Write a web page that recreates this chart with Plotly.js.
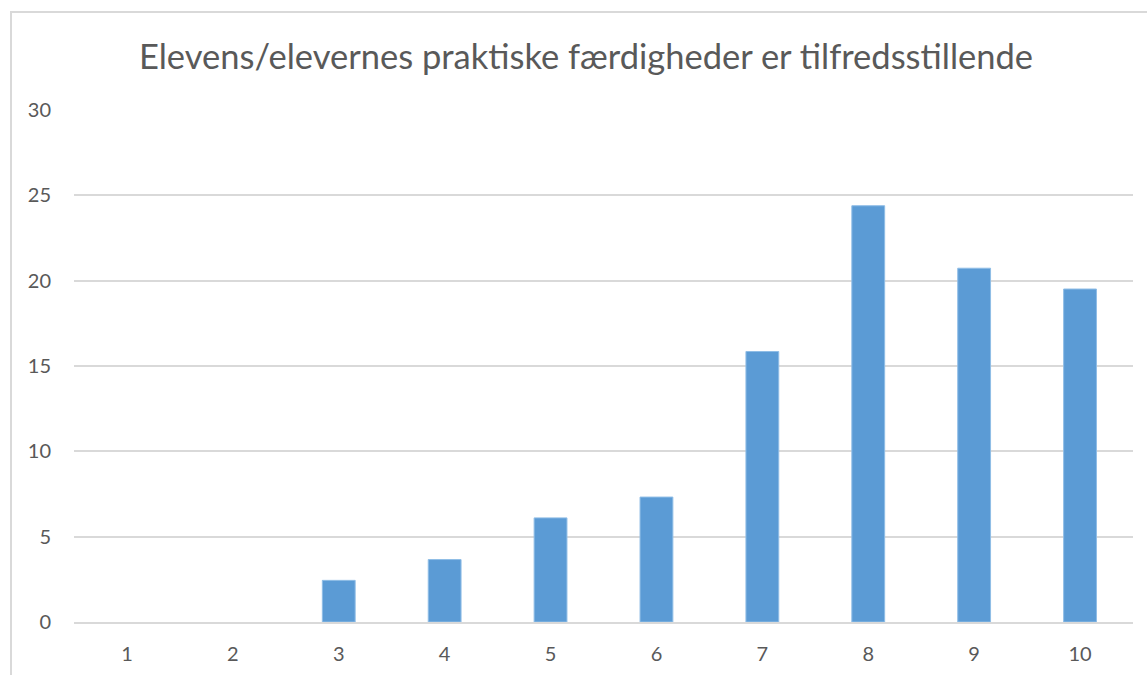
<!DOCTYPE html>
<html>
<head>
<meta charset="utf-8">
<script src="https://cdn.plot.ly/plotly-3.0.1.min.js"></script>
<style>
  html, body { margin: 0; padding: 0; background: #ffffff; }
  #frame { position: absolute; left: 10px; top: 11px; width: 1200px; height: 700px;
           border-left: 2px solid #d9d9d9; border-top: 2px solid #d9d9d9; box-sizing: border-box; }
  #chart { position: absolute; left: 0; top: 0; width: 1147px; height: 675px; }
</style>
</head>
<body>
<div id="frame"></div>
<div id="chart"></div>
<script>
const categories = ["1", "2", "3", "4", "5", "6", "7", "8", "9", "10"];
const values = [0, 0, 2.44, 3.66, 6.10, 7.32, 15.85, 24.39, 20.73, 19.51];
const yTickValues = [0, 5, 10, 15, 20, 25, 30];
const chartTitle = "Elevens/elevernes praktiske færdigheder er tilfredsstillende";

const trace = {
  type: "bar",
  x: categories,
  y: values,
  marker: {
    color: "#5b9bd5",
    line: { color: "#8fbde6", width: values.map(v => (v > 0 ? 1 : 0)) }
  },
  hoverinfo: "x+y"
};

const layout = {
  width: 1147,
  height: 675,
  paper_bgcolor: "rgba(0,0,0,0)",
  plot_bgcolor: "rgba(0,0,0,0)",
  margin: { l: 74, r: 14, t: 110, b: 53 },
  bargap: 0.69,
  showlegend: false,
  font: { family: "Lato, 'Open Sans', sans-serif", color: "#595959" },
  title: {
    text: chartTitle,
    font: { family: "Lato, 'Open Sans', sans-serif", size: 34.5, color: "#595959", weight: 400 },
    x: 0.4835, xref: "paper", xanchor: "center",
    y: 1 - 57 / 675, yref: "container", yanchor: "middle"
  },
  xaxis: {
    type: "category",
    tickfont: { size: 20, color: "#595959" },
    showgrid: false,
    showline: true,
    linecolor: "#d9d9d9",
    linewidth: 2,
    ticks: "",
    ticklabelstandoff: 13
  },
  yaxis: {
    range: [0, 30],
    tickvals: yTickValues,
    tickfont: { size: 20, color: "#595959" },
    showgrid: true,
    gridcolor: "#d9d9d9",
    gridwidth: 2,
    zeroline: false,
    showline: false,
    ticks: "",
    ticklabelstandoff: 22
  }
};

Plotly.newPlot("chart", [trace], layout, { displayModeBar: false, responsive: false });
</script>
</body>
</html>
